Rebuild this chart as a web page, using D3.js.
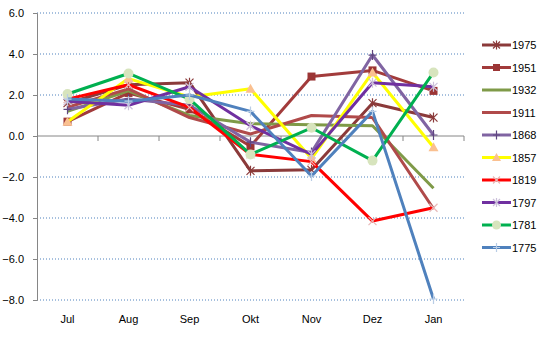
<!DOCTYPE html>
<html>
<head>
<meta charset="utf-8">
<script src="https://cdn.jsdelivr.net/npm/d3@7"></script>
<style>
  html, body { margin: 0; padding: 0; background: #fff; }
  svg { display: block; }
  text { font-family: "Liberation Sans", Arial, sans-serif; font-size: 11px; fill: #000; }
</style>
</head>
<body>
<svg id="chart" width="538" height="338"></svg>
<script>
// Month categories and value-axis ticks
const months = ["Jul", "Aug", "Sep", "Okt", "Nov", "Dez", "Jan"];
const yTicks = [-8, -6, -4, -2, 0, 2, 4, 6];

// Series values per year (Jul..Jan)
const v1975 = [1.6, 2.5, 2.6, -1.7, -1.65, 1.6, 0.9];
const v1951 = [0.7, 2.1, 1.3, -0.5, 2.9, 3.2, 2.2];
const v1932 = [1.2, 2.2, 1.0, 0.6, 0.55, 0.5, -2.55];
const v1911 = [1.4, 2.3, 0.9, 0.1, 1.0, 0.9, -3.55];
const v1868 = [1.3, 1.8, 1.5, -0.3, -0.8, 3.95, 0.05];
const v1857 = [0.7, 2.8, 1.9, 2.3, -1.1, 3.1, -0.55];
const v1819 = [1.8, 2.5, 1.4, -0.9, -1.25, -4.15, -3.5];
const v1797 = [1.7, 1.5, 2.4, 0.5, -0.9, 2.6, 2.4];
const v1781 = [2.05, 3.05, 1.8, -0.9, 0.4, -1.2, 3.1];
const v1775 = [1.8, 1.7, 2.0, 1.2, -1.95, 1.2, -7.95];

const series = [
  { name: "1975", values: v1975, color: "#8B3A3A", marker: "star",     mfill: "#8B3A3A" },
  { name: "1951", values: v1951, color: "#A23B3B", marker: "square",   mfill: "#9B3535" },
  { name: "1932", values: v1932, color: "#7F9A48", marker: "none",     mfill: null },
  { name: "1911", values: v1911, color: "#B04A4A", marker: "none",     mfill: null },
  { name: "1868", values: v1868, color: "#8064A2", marker: "plus",     mfill: "#5F4680" },
  { name: "1857", values: v1857, color: "#FFFF00", marker: "triangle", mfill: "#FAC090" },
  { name: "1819", values: v1819, color: "#FF0000", marker: "x",        mfill: "#E6B9B8" },
  { name: "1797", values: v1797, color: "#7030A0", marker: "star",     mfill: "#CCC1DA" },
  { name: "1781", values: v1781, color: "#00B050", marker: "circle",   mfill: "#D7E4BD" },
  { name: "1775", values: v1775, color: "#4F81BD", marker: "plus",     mfill: "#B9CDE5" }
];

const svg = d3.select("#chart");
const plotLeft = 37, plotRight = 464, plotTop = 13, plotBottom = 300;

const x = d3.scaleBand().domain(months).range([plotLeft, plotRight]).paddingInner(0).paddingOuter(0);
const y = d3.scaleLinear().domain([-8, 6]).range([plotBottom, plotTop]);
const cx = m => x(m) + x.bandwidth() / 2;

// Horizontal gridlines (dotted)
svg.append("g").selectAll("line")
  .data(yTicks.filter(t => t !== 0))
  .join("line")
  .attr("x1", plotLeft).attr("x2", plotRight)
  .attr("y1", d => y(d)).attr("y2", d => y(d))
  .attr("stroke", "#4F81BD").attr("stroke-width", 1)
  .attr("stroke-dasharray", "1,2");

// Value axis
const yAxis = d3.axisLeft(y).tickValues(yTicks).tickFormat(d3.format(".1f")).tickSize(4).tickPadding(9);
const gy = svg.append("g").attr("transform", `translate(${plotLeft},0)`).call(yAxis);
gy.select(".domain").attr("stroke", "#868686");
gy.selectAll(".tick line").attr("stroke", "#868686");
gy.selectAll("text").style("font-size", "11px").attr("font-family", null);

// Category axis at zero with tick marks on band boundaries
svg.append("line")
  .attr("x1", plotLeft).attr("x2", plotRight)
  .attr("y1", y(0)).attr("y2", y(0))
  .attr("stroke", "#868686");
const bounds = months.map(m => x(m)).concat([plotRight]);
svg.append("g").selectAll("line").data(bounds.slice(1)).join("line")
  .attr("x1", d => d).attr("x2", d => d)
  .attr("y1", y(0)).attr("y2", y(0) + 5)
  .attr("stroke", "#868686");

// Category labels along the bottom
svg.append("g").selectAll("text").data(months).join("text")
  .attr("x", d => cx(d)).attr("y", 323)
  .attr("text-anchor", "middle")
  .text(d => d);

// Marker drawing
function drawMarker(g, type, fill, px, py, s) {
  if (type === "square") {
    g.append("rect").attr("x", px - s).attr("y", py - s).attr("width", 2 * s).attr("height", 2 * s)
      .attr("fill", fill);
  } else if (type === "circle") {
    g.append("circle").attr("cx", px).attr("cy", py).attr("r", s + 1).attr("fill", fill);
  } else if (type === "triangle") {
    g.append("path")
      .attr("d", `M${px},${py - s - 1}L${px + s + 1},${py + s}L${px - s - 1},${py + s}Z`)
      .attr("fill", fill);
  } else if (type === "x") {
    g.append("path")
      .attr("d", `M${px - s},${py - s}L${px + s},${py + s}M${px - s},${py + s}L${px + s},${py - s}`)
      .attr("stroke", fill).attr("stroke-width", 1.2).attr("fill", "none");
  } else if (type === "star") {
    g.append("path")
      .attr("d", `M${px - s},${py - s}L${px + s},${py + s}M${px - s},${py + s}L${px + s},${py - s}M${px},${py - s - 1}L${px},${py + s + 1}`)
      .attr("stroke", fill).attr("stroke-width", 1.2).attr("fill", "none");
  } else if (type === "plus") {
    g.append("path")
      .attr("d", `M${px - s},${py}L${px + s},${py}M${px},${py - s - 1}L${px},${py + s + 1}`)
      .attr("stroke", fill).attr("stroke-width", 1.2).attr("fill", "none");
  }
}

// Series lines and markers
const line = d3.line().x((d, i) => cx(months[i])).y(d => y(d));
series.forEach(s => {
  const g = svg.append("g");
  g.append("path")
    .attr("d", line(s.values))
    .attr("fill", "none")
    .attr("stroke", s.color)
    .attr("stroke-width", 3)
    .attr("stroke-linejoin", "round");
  s.values.forEach((v, i) => drawMarker(g, s.marker, s.mfill, cx(months[i]), y(v), 4));
});

// Legend
const legend = svg.append("g");
series.forEach((s, i) => {
  const ly = 45 + i * 22.5;
  legend.append("line")
    .attr("x1", 482).attr("x2", 511).attr("y1", ly).attr("y2", ly)
    .attr("stroke", s.color).attr("stroke-width", 3);
  drawMarker(legend, s.marker, s.mfill, 496.5, ly, 3.5);
  legend.append("text").attr("x", 512).attr("y", ly + 4).text(s.name);
});
</script>
</body>
</html>
